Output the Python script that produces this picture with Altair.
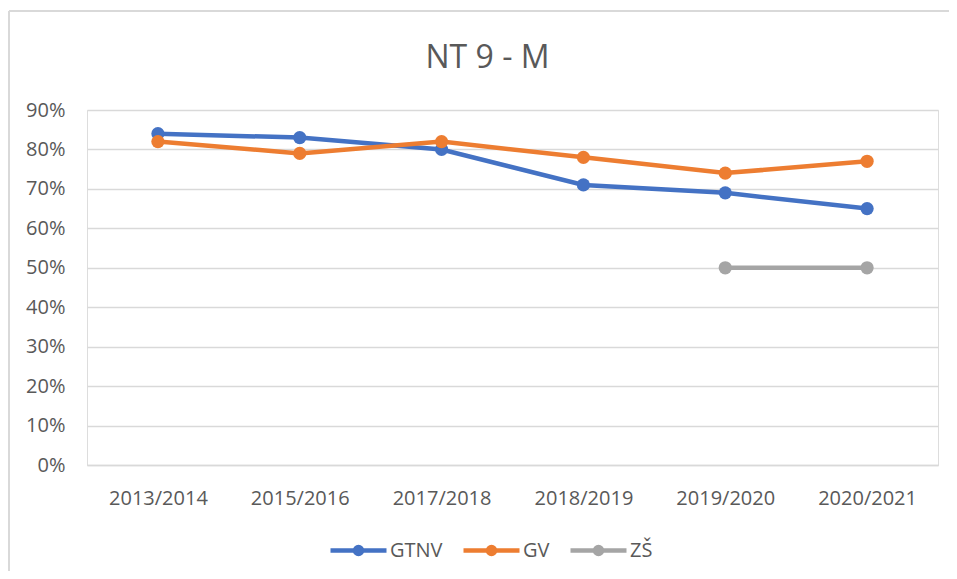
import altair as alt
import pandas as pd

years = ["2013/2014", "2015/2016", "2017/2018", "2018/2019", "2019/2020", "2020/2021"]
gtnv = [0.84, 0.83, 0.80, 0.71, 0.69, 0.65]
gv = [0.82, 0.79, 0.82, 0.78, 0.74, 0.77]
zs_years = ["2019/2020", "2020/2021"]
zs = [0.50, 0.50]
series = ["GTNV", "GV", "ZŠ"]
colors = ["#4472C4", "#ED7D31", "#A5A5A5"]

rows = []
for y, v in zip(years, gtnv):
    rows.append({"rok": y, "hodnota": v, "skupina": "GTNV"})
for y, v in zip(years, gv):
    rows.append({"rok": y, "hodnota": v, "skupina": "GV"})
for y, v in zip(zs_years, zs):
    rows.append({"rok": y, "hodnota": v, "skupina": "ZŠ"})
df = pd.DataFrame(rows)

FONT = "Open Sans"
TXT = "#595959"
GRID = "#D9D9D9"

legend_path = ("M-1,0 L1,0 M0.125,0 A0.125,0.125 0 1,1 -0.125,0 "
               "A0.125,0.125 0 1,1 0.125,0")

base = alt.Chart(df).encode(
    x=alt.X("rok:N", sort=years, title=None,
            scale=alt.Scale(type="point", padding=0.5),
            axis=alt.Axis(labelAngle=0, ticks=False, grid=False,
                          domain=True, domainColor=GRID, domainWidth=1.5,
                          labelFont=FONT, labelFontSize=20, labelColor=TXT,
                          labelBaseline="alphabetic", labelPadding=39)),
    y=alt.Y("hodnota:Q", title=None,
            scale=alt.Scale(domain=[0, 0.9], nice=False),
            axis=alt.Axis(format="%", values=[i / 10 for i in range(10)],
                          ticks=False, domain=False, grid=True,
                          gridColor=GRID, gridWidth=1.5,
                          labelFont=FONT, labelFontSize=20, labelColor=TXT,
                          labelPadding=22)),
    color=alt.Color("skupina:N", sort=series,
                    scale=alt.Scale(domain=series, range=colors),
                    legend=alt.Legend(title=None, orient="none",
                                      direction="horizontal",
                                      legendX=241, legendY=410,
                                      symbolType=legend_path,
                                      symbolSize=3136,
                                      symbolStrokeWidth=4.5,
                                      labelFont=FONT, labelFontSize=20,
                                      labelColor=TXT, labelOffset=1,
                                      columnPadding=11)),
)

lines = base.mark_line(strokeWidth=4.5)
points = base.mark_point(filled=True, size=175, opacity=1)

border_top = alt.Chart(df).mark_rule(color=GRID, strokeWidth=1.5).encode(
    x=alt.value(-78), x2=alt.value(862), y=alt.value(-99))
border_left = alt.Chart(df).mark_rule(color=GRID, strokeWidth=1.5).encode(
    x=alt.value(-78), y=alt.value(-99), y2=alt.value(461))

chart = alt.layer(border_top, border_left, lines, points).properties(
    width=851, height=355,
    title=alt.TitleParams("NT 9 - M", font=FONT, fontSize=32,
                          fontWeight="normal", color=TXT, anchor="middle",
                          baseline="alphabetic", offset=-90, dx=-25),
    autosize=alt.AutoSizeParams(type="none"),
    padding={"left": 79, "top": 102, "right": 11, "bottom": 106},
).configure_view(stroke=None).configure(background="white")

chart.save("out.html", embed_options={"renderer": "svg", "actions": False})
